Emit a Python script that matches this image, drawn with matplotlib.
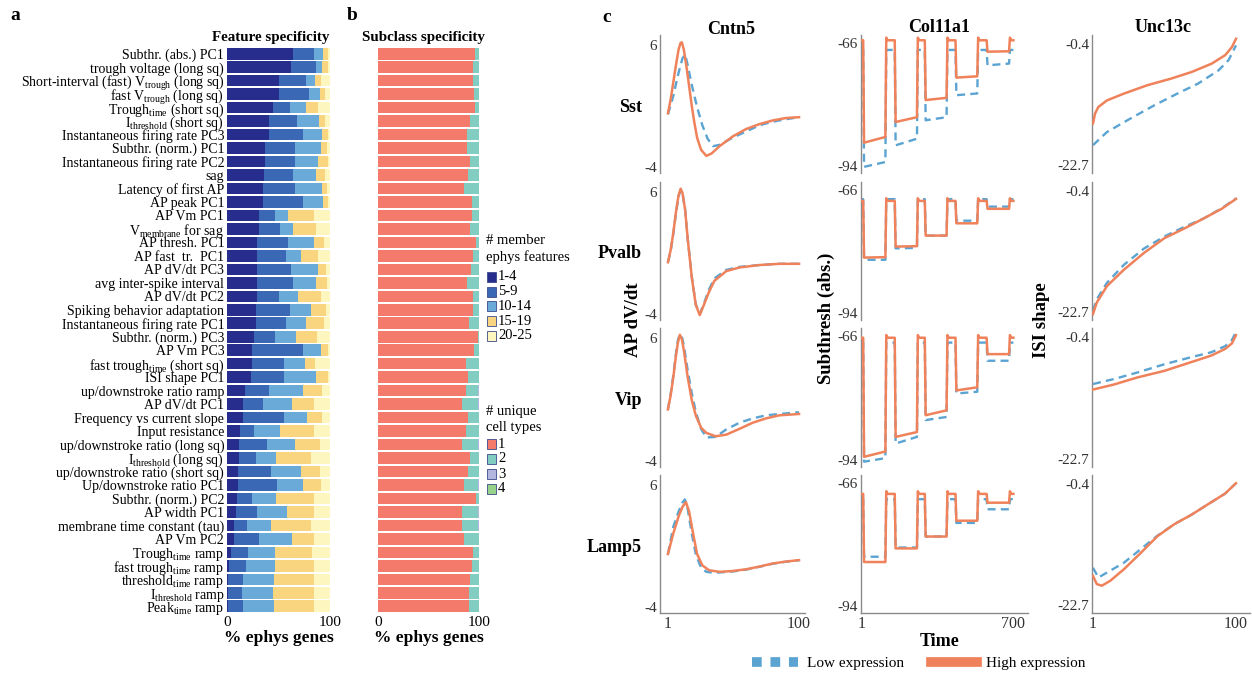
import matplotlib
matplotlib.use('Agg')
import matplotlib.pyplot as plt
from matplotlib.patches import Rectangle
from matplotlib.lines import Line2D

plt.rcParams['font.family'] = ['Liberation Serif', 'DejaVu Serif']
plt.rcParams['mathtext.fontset'] = 'custom'
plt.rcParams['mathtext.rm'] = 'Liberation Serif'
plt.rcParams['mathtext.it'] = 'Liberation Serif:italic'
plt.rcParams['mathtext.bf'] = 'Liberation Serif:bold'

# ---------------- data: panel a / b ----------------
features = [
    'Subthr. (abs.) PC1', 'trough voltage (long sq)',
    r'Short-interval (fast) V$_{\rm trough}$ (long sq)', r'fast V$_{\rm trough}$ (long sq)',
    r'Trough$_{\rm time}$ (short sq)', r'I$_{\rm threshold}$ (short sq)',
    'Instantaneous firing rate PC3', 'Subthr. (norm.) PC1',
    'Instantaneous firing rate PC2', 'sag', 'Latency of first AP', 'AP peak PC1',
    'AP Vm PC1', r'V$_{\rm membrane}$ for sag', 'AP thresh. PC1', 'AP fast  tr.  PC1',
    'AP dV/dt PC3', 'avg inter-spike interval', 'AP dV/dt PC2',
    'Spiking behavior adaptation', 'Instantaneous firing rate PC1',
    'Subthr. (norm.) PC3', 'AP Vm PC3', r'fast trough$_{\rm time}$ (short sq)',
    'ISI shape PC1', 'up/downstroke ratio ramp', 'AP dV/dt PC1',
    'Frequency vs current slope', 'Input resistance', 'up/downstroke ratio (long sq)',
    r'I$_{\rm threshold}$ (long sq)', 'up/downstroke ratio (short sq)',
    'Up/downstroke ratio PC1', 'Subthr. (norm.) PC2', 'AP width PC1',
    'membrane time constant (tau)', 'AP Vm PC2', r'Trough$_{\rm time}$ ramp',
    r'fast trough$_{\rm time}$ ramp', r'threshold$_{\rm time}$ ramp',
    r'I$_{\rm threshold}$ ramp', r'Peak$_{\rm time}$ ramp']

member_1_4 = [64.5, 62, 50, 50, 44.5, 41, 41, 37, 37, 35.5, 35, 35, 31.5, 31, 29.5, 29.5, 29.5, 29.5, 29, 28, 28,
              26, 24.5, 24.5, 23, 17.5, 16, 16, 13, 12, 12, 11, 11, 9.5, 9, 7, 7, 4, 1.5, 0.5, 0.5, 0.5]
member_5_9 = [19.5, 24.5, 27, 30, 16.5, 27, 33, 29.5, 29.5, 28.5, 31, 39, 15.5, 20, 29.5, 27.5, 32.5, 35, 21, 33, 29,
              21, 49.5, 30.5, 32.5, 23.5, 19, 39.5, 13.5, 27, 16, 31.5, 38, 14.5, 20.5, 12, 24.5, 16, 16.5, 15.5, 14.5, 15.5]
member_10_14 = [9, 5.5, 8, 10, 16, 21, 18, 24.5, 21.5, 22, 26, 19, 12, 13.5, 25, 15, 26, 21.5, 19, 21, 20,
                20, 17, 21, 31, 33, 28, 22.5, 24.5, 27.5, 20, 29.5, 25, 24, 28.5, 24, 31.5, 27, 29, 30, 30, 30]
member_15_19 = [5, 6, 6, 5, 11, 6, 6, 6, 10, 9, 5, 5, 25.5, 22, 10, 16, 8, 11, 22, 14, 17,
                20, 7, 9.5, 11.5, 18, 21.5, 14, 33, 23.5, 34, 18, 17, 36, 26.5, 39, 21.5, 35.5, 37, 38, 39, 38]
member_20_25 = [2, 2, 9, 5, 12, 5, 2, 3, 2, 5, 3, 2, 15.5, 13.5, 6, 12, 4, 3, 9, 4, 6,
                13, 2, 14.5, 2, 8, 15.5, 8, 16, 10, 18, 10, 9, 16, 15.5, 18, 15.5, 17.5, 16, 16, 16, 16]
member_labels = ['1-4', '5-9', '10-14', '15-19', '20-25']
member_colors = ['#262d8c', '#3a68b4', '#6aaad9', '#f9d57f', '#fdf7bf']

types_1 = [95.7, 94, 94, 95, 95.7, 91.4, 88, 88, 90.8, 88.8, 85, 93.4, 92.7, 90.8, 96.7, 94, 92.4, 88, 94, 94, 89.8,
           99, 94.7, 87.5, 89, 87.5, 83, 89, 87, 83, 90.8, 89, 85.5, 96.7, 83.5, 83, 85, 94, 93.4, 90.8, 90, 90]
types_3 = [0, 0, 0, 0, 0, 0, 0, 0, 0, 0, 0, 0, 0, 0, 0, 0, 0, 0, 0, 0, 0,
           0, 0, 0, 0, 1, 1, 0, 0, 1, 0, 0, 1, 0, 1, 1, 0, 0, 0, 0, 0, 0]
types_4 = [0] * 42
types_2 = [100 - a - b - c for a, b, c in zip(types_1, types_3, types_4)]
type_labels = ['1', '2', '3', '4']
type_colors = ['#f47b6b', '#82cdc1', '#b3b6df', '#98d38a']

# ---------------- data: panel c ----------------
cell_types = ['Sst', 'Pvalb', 'Vip', 'Lamp5']

# AP dV/dt (Cntn5)
sst_dvdt_hi_x = [1, 3, 5, 7, 9, 10.5, 11.5, 13, 15, 17, 19, 21, 23, 26, 30, 34, 40, 50, 60, 70, 80, 90, 100]
sst_dvdt_hi_y = [0.4, 1.5, 2.9, 4.3, 5.6, 6.15, 6.2, 5.6, 4.2, 2.6, 1.0, -0.4, -1.6, -2.6, -3.1, -2.9, -2.3, -1.5,
                 -0.9, -0.5, -0.2, 0.0, 0.07]
sst_dvdt_lo_x = [1, 5, 9, 12, 14, 16, 19, 23, 27, 31, 35, 40, 50, 60, 70, 80, 90, 100]
sst_dvdt_lo_y = [0.3, 1.8, 3.7, 4.9, 5.2, 4.3, 2.7, 0.9, -0.6, -1.7, -2.3, -2.2, -1.6, -1.1, -0.6, -0.3, -0.1, 0.07]
pvalb_dvdt_x = [1, 3, 5, 7, 9, 10.6, 12, 14, 16, 19, 22, 25, 28, 32, 36, 45, 55, 70, 85, 100]
pvalb_dvdt_hi_y = [0.23, 1.2, 2.6, 4.3, 5.7, 6.25, 5.9, 4.5, 2.05, -1.0, -3.25, -4.1, -3.3, -2.2, -1.3, -0.5, -0.2,
                   0.0, 0.1, 0.1]
pvalb_dvdt_lo_y = [0.25, 1.1, 2.5, 4.2, 5.6, 6.15, 5.85, 4.5, 2.1, -0.95, -3.2, -4.0, -3.2, -2.0, -1.1, -0.4, -0.15,
                   0.0, 0.1, 0.1]
vip_dvdt_x = [1, 3, 5, 7, 8.5, 10, 11.5, 13, 16, 19, 22, 26, 30, 37, 45, 55, 65, 75, 85, 100]
vip_dvdt_hi_y = [0.18, 1.3, 2.75, 4.5, 5.6, 6.25, 5.9, 5.0, 2.75, 0.93, -0.3, -1.3, -1.73, -2.0, -1.87, -1.4, -0.9,
                 -0.55, -0.3, -0.19]
vip_dvdt_lo_y = [0.2, 1.4, 2.9, 4.7, 5.8, 6.3, 6.1, 5.4, 3.3, 1.5, 0.0, -1.4, -2.1, -2.05, -1.45, -0.9, -0.55,
                 -0.3, -0.19, -0.05]
lamp5_dvdt_hi_x = [1, 5, 9, 12, 14.6, 17, 20, 23, 27, 32, 40, 50, 60, 70, 80, 90, 100]
lamp5_dvdt_hi_y = [0.33, 2.0, 3.4, 4.2, 4.58, 3.8, 2.0, 0.33, -0.6, -1.0, -1.13, -1.06, -0.92, -0.7, -0.45, -0.29,
                   -0.17]
lamp5_dvdt_lo_x = [1, 5, 9, 12, 13.8, 16, 19, 22, 26, 30, 35, 40, 50, 60, 70, 80, 90, 100]
lamp5_dvdt_lo_y = [0.33, 2.55, 3.8, 4.55, 4.8, 3.96, 2.0, 0.33, -0.8, -1.13, -1.2, -1.18, -1.1, -0.95, -0.72,
                   -0.47, -0.3, -0.18]

# Subthreshold (abs.) (Col11a1): step protocol
step_on = [10, 155, 293, 434, 577]
step_off = [112, 257, 393, 534, 680]
sst_sub_hi_base, sst_sub_hi_start, sst_sub_hi_end = -65.4, [-88.7, -84.0, -79.0, -73.9, -68.0], [-87.4, -82.9, -78.5, -73.6, -67.9]
sst_sub_lo_base, sst_sub_lo_start, sst_sub_lo_end = -67.6, [-94.2, -89.3, -83.6, -77.9, -71.1], [-93.1, -87.8, -82.9, -77.5, -70.7]
pvalb_sub_hi_base, pvalb_sub_hi_start, pvalb_sub_hi_end = -68.5, [-81.4, -78.9, -76.4, -73.6, -70.3], [-81.3, -78.8, -76.4, -73.6, -70.3]
pvalb_sub_lo_base, pvalb_sub_lo_start, pvalb_sub_lo_end = -68.1, [-81.9, -79.3, -76.4, -73.0, -69.8], [-81.9, -79.2, -76.4, -73.0, -69.8]
vip_sub_hi_base, vip_sub_hi_start, vip_sub_hi_end = -66.4, [-93.3, -88.8, -83.9, -78.3, -70.1], [-92.1, -87.7, -82.8, -77.6, -70.1]
vip_sub_lo_base, vip_sub_lo_start, vip_sub_lo_end = -67.5, [-94.4, -90.3, -85.0, -79.0, -71.6], [-93.6, -88.8, -84.3, -78.6, -71.6]
lamp5_sub_hi_base, lamp5_sub_hi_start, lamp5_sub_hi_end = -68.5, [-84.0, -80.9, -78.2, -74.6, -70.5], [-84.0, -80.9, -78.2, -74.6, -70.5]
lamp5_sub_lo_base, lamp5_sub_lo_start, lamp5_sub_lo_end = -69.7, [-82.8, -80.7, -78.2, -75.1, -72.0], [-82.8, -80.7, -78.2, -75.1, -72.0]
hi_rebound = 0.6

# ISI shape (Unc13c)
sst_isi_hi_x = [1, 2.4, 4.7, 10.6, 22.3, 38.7, 55, 69.1, 83.1, 92.5, 97.2, 100]
sst_isi_hi_y = [-15.0, -13.2, -12.0, -10.8, -9.55, -8.0, -6.8, -5.6, -4.06, -2.5, -1.0, 0.5]
sst_isi_lo_x = [1, 10.6, 27, 43.4, 59.7, 73.8, 87.8, 94.9, 100]
sst_isi_lo_y = [-19.0, -16.6, -14.1, -11.7, -9.5, -7.7, -5.3, -3.4, -0.7]
pvalb_isi_x = [1, 3.6, 10.6, 22.3, 36.3, 50.4, 64.4, 77.5, 90.2, 100]
pvalb_isi_hi_y = [-23.0, -20.9, -17.9, -14.9, -11.8, -9.1, -7.3, -5.5, -3.7, -1.9]
pvalb_isi_lo_y = [-22.4, -20.3, -17.3, -14.0, -11.0, -8.8, -7.0, -5.5, -3.6, -1.8]
vip_isi_x = [1, 15.3, 31.7, 50.4, 69.1, 83.1, 92.5, 97.2, 100]
vip_isi_hi_y = [-10.0, -9.1, -7.8, -6.6, -5.0, -3.8, -2.6, -1.6, -0.1]
vip_isi_lo_y = [-9.0, -8.1, -6.9, -5.4, -4.1, -3.2, -2.1, -1.0, 0.5]
lamp5_isi_hi_x = [1, 3.6, 7.1, 12.9, 22.3, 34, 45.7, 57.4, 69.1, 79.8, 92.5, 100]
lamp5_isi_hi_y = [-17.3, -18.8, -19.1, -18.2, -16.1, -13.1, -10.0, -7.8, -6.1, -4.3, -2.2, -0.3]
lamp5_isi_lo_x = [1, 4.7, 10.6, 22.3, 34, 45.7, 57.4, 69.1, 79.8, 92.5, 100]
lamp5_isi_lo_y = [-15.8, -17.6, -16.7, -14.9, -12.4, -9.9, -7.8, -6.1, -4.3, -2.2, -0.3]

col_titles = ['Cntn5', 'Col11a1', 'Unc13c']
col_ylabels = ['AP dV/dt', 'Subthresh (abs.)', 'ISI shape']
col_yticks = [[6, -4], [-66, -94], [-0.4, -22.7]]
col_yticklabels = [['6', '-4'], ['-66', '-94'], ['-0.4', '-22.7']]
col_xticks = [[1, 100], [1, 700], [1, 100]]

# ---------------- figure ----------------
W, H = 1252, 673
fig = plt.figure(figsize=(W / 100, H / 100), dpi=100)


def rect(x0, y0, x1, y1):
    return [x0 / W, 1 - y1 / H, (x1 - x0) / W, (y1 - y0) / H]


def ftext(x, y, s, **kw):
    fig.text(x / W, 1 - y / H, s, **kw)


BLUE = '#5ba4d2'
ORANGE = '#ef825a'
GRAY = '#8a8a8a'

# Panel a
n = len(features)
rows = list(range(n))
axa = fig.add_axes(rect(227, 47, 330, 613))
left = [0.0] * n
for vals, col in zip([member_1_4, member_5_9, member_10_14, member_15_19, member_20_25], member_colors):
    axa.barh(rows, vals, left=left, color=col, height=0.86, linewidth=0)
    left = [l + v for l, v in zip(left, vals)]
axa.set_xlim(0, 100)
axa.set_ylim(n - 0.5, -0.5)
axa.set_yticks(rows)
axa.set_yticklabels(features, fontsize=10.0)
axa.set_xticks([0, 100])
axa.set_xticklabels(['0', '100'], fontsize=11)
axa.tick_params(length=0, pad=2)
for s in axa.spines.values():
    s.set_visible(False)
axa.set_xlabel('% ephys genes', fontsize=12.5, fontweight='bold', labelpad=1)

# Panel b
axb = fig.add_axes(rect(378, 47, 479, 613))
left = [0.0] * n
for vals, col in zip([types_1, types_2, types_3, types_4], type_colors):
    axb.barh(rows, vals, left=left, color=col, height=0.86, linewidth=0)
    left = [l + v for l, v in zip(left, vals)]
axb.set_xlim(0, 100)
axb.set_ylim(n - 0.5, -0.5)
axb.set_yticks([])
axb.set_xticks([0, 100])
axb.set_xticklabels(['0', '100'], fontsize=11)
axb.tick_params(length=0, pad=2)
for s in axb.spines.values():
    s.set_visible(False)
axb.set_xlabel('% ephys genes', fontsize=12.5, fontweight='bold', labelpad=1)

ftext(271, 38, 'Feature specificity', fontsize=10.8, fontweight='bold', ha='center', va='center')
ftext(423, 38, 'Subclass specificity', fontsize=10.8, fontweight='bold', ha='center', va='center')
ftext(15, 15, 'a', fontsize=14, fontweight='bold', ha='center', va='center')
ftext(352, 15, 'b', fontsize=14, fontweight='bold', ha='center', va='center')
ftext(607, 17, 'c', fontsize=14, fontweight='bold', ha='center', va='center')

# legends for a / b
ftext(486, 240, '# member', fontsize=10.5, ha='left', va='center')
ftext(486, 257, 'ephys features', fontsize=10.5, ha='left', va='center')
for i, (lab, col) in enumerate(zip(member_labels, member_colors)):
    yc = 277 + i * 14.7
    fig.add_artist(Rectangle((487 / W, 1 - (yc + 5) / H), 9 / W, 10 / H, transform=fig.transFigure,
                             facecolor=col, edgecolor='#3a4a8a', linewidth=0.6))
    ftext(498, yc, lab, fontsize=10.5, ha='left', va='center')
ftext(486, 411, '# unique', fontsize=10.5, ha='left', va='center')
ftext(486, 428, 'cell types', fontsize=10.5, ha='left', va='center')
for i, (lab, col) in enumerate(zip(type_labels, type_colors)):
    yc = 444 + i * 15
    fig.add_artist(Rectangle((487 / W, 1 - (yc + 5) / H), 9 / W, 10 / H, transform=fig.transFigure,
                             facecolor=col, edgecolor='#3a4a8a', linewidth=0.6))
    ftext(498, yc, lab, fontsize=10.5, ha='left', va='center')


# Panel c
def step_trace(base, starts, ends, rebound):
    t, v = [1], [base]
    for on, off, s, e in zip(step_on, step_off, starts, ends):
        t += [on, on + 4, off, off + 4, off + 10]
        v += [base, s, e, base + rebound, base]
    t.append(700)
    v.append(base)
    return t, v


dvdt = [
    ((sst_dvdt_hi_x, sst_dvdt_hi_y), (sst_dvdt_lo_x, sst_dvdt_lo_y)),
    ((pvalb_dvdt_x, pvalb_dvdt_hi_y), (pvalb_dvdt_x, pvalb_dvdt_lo_y)),
    ((vip_dvdt_x, vip_dvdt_hi_y), (vip_dvdt_x, vip_dvdt_lo_y)),
    ((lamp5_dvdt_hi_x, lamp5_dvdt_hi_y), (lamp5_dvdt_lo_x, lamp5_dvdt_lo_y)),
]
sub = [
    (step_trace(sst_sub_hi_base, sst_sub_hi_start, sst_sub_hi_end, hi_rebound),
     step_trace(sst_sub_lo_base, sst_sub_lo_start, sst_sub_lo_end, 0)),
    (step_trace(pvalb_sub_hi_base, pvalb_sub_hi_start, pvalb_sub_hi_end, hi_rebound),
     step_trace(pvalb_sub_lo_base, pvalb_sub_lo_start, pvalb_sub_lo_end, 0)),
    (step_trace(vip_sub_hi_base, vip_sub_hi_start, vip_sub_hi_end, hi_rebound),
     step_trace(vip_sub_lo_base, vip_sub_lo_start, vip_sub_lo_end, 0)),
    (step_trace(lamp5_sub_hi_base, lamp5_sub_hi_start, lamp5_sub_hi_end, hi_rebound),
     step_trace(lamp5_sub_lo_base, lamp5_sub_lo_start, lamp5_sub_lo_end, 0)),
]
isi = [
    ((sst_isi_hi_x, sst_isi_hi_y), (sst_isi_lo_x, sst_isi_lo_y)),
    ((pvalb_isi_x, pvalb_isi_hi_y), (pvalb_isi_x, pvalb_isi_lo_y)),
    ((vip_isi_x, vip_isi_hi_y), (vip_isi_x, vip_isi_lo_y)),
    ((lamp5_isi_hi_x, lamp5_isi_hi_y), (lamp5_isi_lo_x, lamp5_isi_lo_y)),
]
columns = [dvdt, sub, isi]
col_px = [(660, 805), (861, 1028), (1092, 1250)]
row_px = [(35, 173), (182, 320), (328, 467), (475, 613)]
col_xlim = [(-5, 104.5), (0, 767), (0.3, 109.7)]
col_ylim = [(-4.5, 6.8), (-95.6, -64.2), (-24.1, 1.2)]
dash = (0, (3.4, 2.2))

for c in range(3):
    for r in range(4):
        x0, x1 = col_px[c]
        y0, y1 = row_px[r]
        ax = fig.add_axes(rect(x0, y0, x1, y1))
        hi, lo = columns[c][r]
        ax.plot(lo[0], lo[1], color=BLUE, lw=1.7, linestyle=dash, zorder=2)
        ax.plot(hi[0], hi[1], color=ORANGE, lw=1.8, zorder=3)
        ax.set_xlim(*col_xlim[c])
        ax.set_ylim(*col_ylim[c])
        ax.set_yticks(col_yticks[c])
        ax.set_yticklabels(col_yticklabels[c], fontsize=11, color='#333333')
        ax.tick_params(length=0, pad=2)
        for side in ['top', 'right']:
            ax.spines[side].set_visible(False)
        ax.spines['left'].set_color(GRAY)
        ax.spines['left'].set_linewidth(1.0)
        if r == 3:
            ax.spines['bottom'].set_color(GRAY)
            ax.spines['bottom'].set_linewidth(1.0)
            ax.set_xticks(col_xticks[c])
            ax.set_xticklabels([str(v) for v in col_xticks[c]], fontsize=11.5, color='#333333')
        else:
            ax.spines['bottom'].set_visible(False)
            ax.set_xticks([])
        ax.patch.set_alpha(0)

for r, name in enumerate(cell_types):
    yc = (row_px[r][0] + row_px[r][1]) / 2 + 3
    ftext(642, yc, name, fontsize=13, fontweight='bold', ha='right', va='center')

ftext(731, 30, col_titles[0], fontsize=13, fontweight='bold', ha='center', va='center')
ftext(939, 27, col_titles[1], fontsize=13, fontweight='bold', ha='center', va='center')
ftext(1163, 27, col_titles[2], fontsize=13, fontweight='bold', ha='center', va='center')
ftext(634, 320, col_ylabels[0], fontsize=13.5, fontweight='bold', ha='center', va='center', rotation=90)
ftext(826, 318, col_ylabels[1], fontsize=13.5, fontweight='bold', ha='center', va='center', rotation=90)
ftext(1042, 320, col_ylabels[2], fontsize=13.5, fontweight='bold', ha='center', va='center', rotation=90)
ftext(940, 642, 'Time', fontsize=13, fontweight='bold', ha='center', va='center')

handles = [Line2D([], [], color=BLUE, lw=7, linestyle=(0, (1.0, 0.9))),
           Line2D([], [], color=ORANGE, lw=7)]
fig.legend(handles, ['Low expression', 'High expression'], loc='center left',
           bbox_to_anchor=(743 / W, 1 - 663 / H), ncol=2, frameon=False, fontsize=11,
           handlelength=3.0, columnspacing=1.75, handletextpad=0.6, borderpad=0.1)

fig.savefig('out.png', dpi=100)
